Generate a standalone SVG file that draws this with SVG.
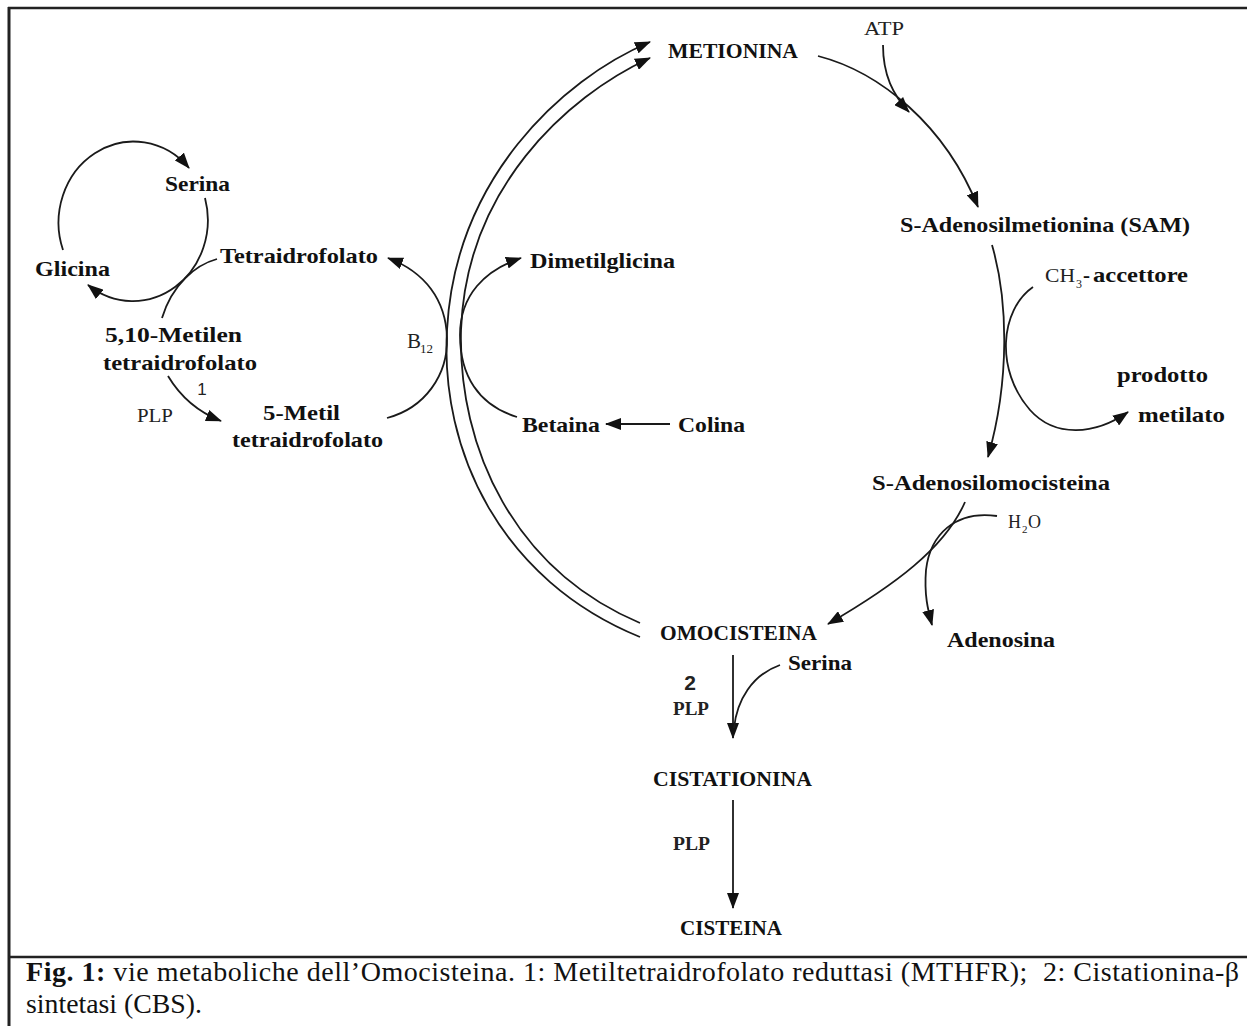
<svg xmlns="http://www.w3.org/2000/svg" width="1247" height="1026" viewBox="0 0 1247 1026">
<style>
.lbl{font-family:"Liberation Serif","Times New Roman",serif;font-weight:bold;font-size:21px;fill:#111}
.reg{font-family:"Liberation Serif","Times New Roman",serif;font-weight:normal;font-size:18px;fill:#222}
.sans{font-family:"Liberation Sans",Arial,sans-serif;fill:#222}
.cap{font-family:"Liberation Serif","Times New Roman",serif;font-size:28px;fill:#111}
.ln{fill:none;stroke:#1a1a1a;stroke-width:1.8}
.arr{marker-end:url(#ah)}
.frame{stroke:#222;fill:none}
</style>
<defs>
<marker id="ah" markerUnits="userSpaceOnUse" viewBox="0 0 16 12" refX="15" refY="6" markerWidth="16" markerHeight="12" orient="auto">
<path d="M0,0 L16,6 L0,12 z" fill="#111"/>
</marker>
</defs>
<rect width="1247" height="1026" fill="#fff"/>
<g id="frame">
<line class="frame" x1="8" y1="8" x2="1247" y2="8" stroke-width="2.5"/>
<line class="frame" x1="9" y1="7" x2="9" y2="1026" stroke-width="3"/>
<line class="frame" x1="8" y1="957" x2="1247" y2="957" stroke-width="2.5"/>
</g>
<g id="connectors">
<path class="ln arr" d="M640,637 C500,580 440,450 447,330 C455,180 560,80 650,42"/>
<path class="ln arr" d="M640,623 C515,570 458,450 461,330 C466,190 565,97 650,58"/>
<path class="ln arr" d="M818,56 C880,72 945,125 978,207"/>
<path class="ln arr" d="M883,45 C883,75 893,95 909,112"/>
<path class="ln arr" d="M992,245 C1008,300 1010,380 988,457"/>
<path class="ln arr" d="M1033,287 C1000,310 995,370 1030,410 C1055,438 1095,435 1128,412"/>
<path class="ln arr" d="M965,502 C945,548 895,585 828,624"/>
<path class="ln arr" d="M997,516 C955,510 930,535 926,570 C924,595 928,610 932,625"/>
<path class="ln arr" d="M733,655 L733,738"/>
<path class="ln" d="M780,665 C752,675 737,700 734,728"/>
<path class="ln arr" d="M733,800 L733,908"/>
<path class="ln arr" d="M670,424 L606,424"/>
<path class="ln arr" d="M517,417 C478,405 460,375 460,335 C460,295 485,270 521,258"/>
<path class="ln arr" d="M387,418 C425,408 448,375 447,338 C446,300 425,272 388,258"/>
<path class="ln arr" d="M63,250 A75,81 0 0 1 189,168"/>
<path class="ln arr" d="M205,198 A75,81 0 0 1 88,285"/>
<path class="ln" d="M217,259 C195,265 172,285 162,318"/>
<path class="ln arr" d="M168,376 C180,396 198,412 221,421"/>
</g>
<g id="metionina"><text class="lbl" x="668" y="58" textLength="130" lengthAdjust="spacingAndGlyphs">METIONINA</text></g>
<g id="atp"><text class="reg" x="864" y="35" textLength="40" lengthAdjust="spacingAndGlyphs">ATP</text></g>
<g id="sam"><text class="lbl" x="900" y="232" textLength="290" lengthAdjust="spacingAndGlyphs">S-Adenosilmetionina (SAM)</text></g>
<g id="ch3-accettore">
<text class="reg" x="1045" y="282" style="font-size:19px" textLength="30" lengthAdjust="spacingAndGlyphs">CH</text>
<text class="reg" x="1076" y="288" style="font-size:12px">3</text>
<text class="lbl" x="1083" y="282">-</text>
<text class="lbl" x="1093" y="282" textLength="95" lengthAdjust="spacingAndGlyphs">accettore</text>
</g>
<g id="prodotto-metilato">
<text class="lbl" x="1117" y="382" textLength="91" lengthAdjust="spacingAndGlyphs">prodotto</text>
<text class="lbl" x="1138" y="422" textLength="87" lengthAdjust="spacingAndGlyphs">metilato</text>
</g>
<g id="sah"><text class="lbl" x="872" y="490" textLength="238" lengthAdjust="spacingAndGlyphs">S-Adenosilomocisteina</text></g>
<g id="h2o">
<text class="reg" x="1008" y="528">H</text>
<text class="reg" x="1022" y="533" style="font-size:11px">2</text>
<text class="reg" x="1028" y="528">O</text>
</g>
<g id="adenosina"><text class="lbl" x="947" y="647" textLength="108" lengthAdjust="spacingAndGlyphs">Adenosina</text></g>
<g id="omocisteina"><text class="lbl" x="660" y="640" style="font-size:20px" textLength="157" lengthAdjust="spacingAndGlyphs">OMOCISTEINA</text></g>
<g id="serina-2"><text class="lbl" x="788" y="670" textLength="64" lengthAdjust="spacingAndGlyphs">Serina</text></g>
<g id="enzyme-2">
<text class="sans" x="690" y="690" text-anchor="middle" style="font-size:21px;font-weight:bold">2</text>
<text class="reg" x="673" y="715" textLength="36" lengthAdjust="spacingAndGlyphs" style="font-weight:bold">PLP</text>
</g>
<g id="cistationina"><text class="lbl" x="653" y="786" style="font-size:20px" textLength="159" lengthAdjust="spacingAndGlyphs">CISTATIONINA</text></g>
<g id="plp-3"><text class="reg" x="673" y="850" textLength="37" lengthAdjust="spacingAndGlyphs" style="font-weight:bold">PLP</text></g>
<g id="cisteina"><text class="lbl" x="680" y="935" style="font-size:20px" textLength="102" lengthAdjust="spacingAndGlyphs">CISTEINA</text></g>
<g id="serina-1"><text class="lbl" x="165" y="191" textLength="65" lengthAdjust="spacingAndGlyphs">Serina</text></g>
<g id="glicina"><text class="lbl" x="35" y="276" textLength="75" lengthAdjust="spacingAndGlyphs">Glicina</text></g>
<g id="thf"><text class="lbl" x="220" y="263" textLength="158" lengthAdjust="spacingAndGlyphs">Tetraidrofolato</text></g>
<g id="methylene-thf">
<text class="lbl" x="105" y="342" textLength="137" lengthAdjust="spacingAndGlyphs">5,10-Metilen</text>
<text class="lbl" x="103" y="370" textLength="154" lengthAdjust="spacingAndGlyphs">tetraidrofolato</text>
</g>
<g id="enzyme-1">
<text class="sans" x="202" y="395" text-anchor="middle" style="font-size:17px">1</text>
<text class="reg" x="137" y="422" textLength="36" lengthAdjust="spacingAndGlyphs">PLP</text>
</g>
<g id="methyl-thf">
<text class="lbl" x="263" y="420" textLength="77" lengthAdjust="spacingAndGlyphs">5-Metil</text>
<text class="lbl" x="232" y="447" textLength="151" lengthAdjust="spacingAndGlyphs">tetraidrofolato</text>
</g>
<g id="b12">
<text class="reg" x="407" y="348" style="font-size:21px">B</text>
<text class="reg" x="420" y="353" style="font-size:13px">12</text>
</g>
<g id="dimetilglicina"><text class="lbl" x="530" y="268" textLength="145" lengthAdjust="spacingAndGlyphs">Dimetilglicina</text></g>
<g id="betaina"><text class="lbl" x="522" y="432" textLength="78" lengthAdjust="spacingAndGlyphs">Betaina</text></g>
<g id="colina"><text class="lbl" x="678" y="432" textLength="67" lengthAdjust="spacingAndGlyphs">Colina</text></g>
<g id="caption">
<text class="cap" x="26" y="981" xml:space="preserve" textLength="1213" lengthAdjust="spacing"><tspan font-weight="bold">Fig. 1:</tspan> vie metaboliche dell’Omocisteina. 1: Metiltetraidrofolato reduttasi (MTHFR);  2: Cistationina-β</text>
<text class="cap" x="26" y="1013" textLength="176" lengthAdjust="spacingAndGlyphs">sintetasi (CBS).</text>
</g>
</svg>
